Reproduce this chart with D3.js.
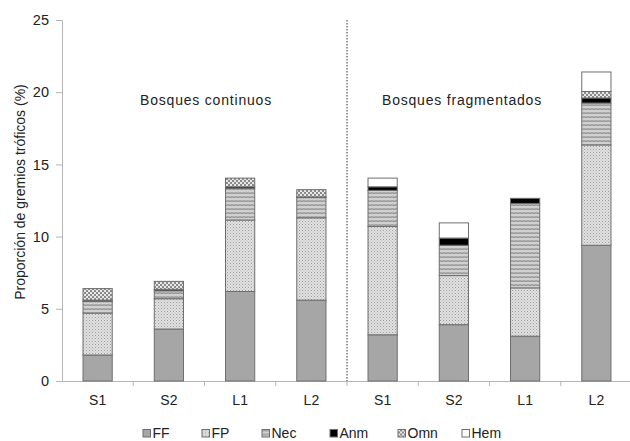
<!DOCTYPE html>
<html>
<head>
<meta charset="utf-8">
<script src="https://cdn.jsdelivr.net/npm/d3@7"></script>
<style>
  body { margin: 0; background: #fff; }
  text { font-family: "Liberation Sans", Arial, sans-serif; }
</style>
</head>
<body>
<svg id="chart" width="630" height="441"></svg>
<script>
// categories (two forest groups, four sites each)
var categories = ["S1", "S2", "L1", "L2", "S1", "S2", "L1", "L2"];
var groupLabels = ["Bosques continuos", "Bosques fragmentados"];
var guilds = ["FF", "FP", "Nec", "Anm", "Omn", "Hem"];

// values (%)
var ff  = [1.8, 3.6, 6.2, 5.6, 3.2, 3.9, 3.1, 9.4];
var fp  = [2.9, 2.1, 4.95, 5.7, 7.5, 3.4, 3.35, 6.95];
var nec = [0.8, 0.55, 2.2, 1.4, 2.5, 2.1, 5.85, 2.9];
var anm = [0.1, 0.1, 0.1, 0.05, 0.25, 0.5, 0.35, 0.35];
var omn = [0.8, 0.55, 0.6, 0.5, 0, 0, 0, 0.45];
var hem = [0, 0, 0, 0, 0.6, 1.05, 0, 1.35];
var yTicks = [0, 5, 10, 15, 20, 25];

var svg = d3.select("#chart");
var margin = {top: 20, right: -2, bottom: 60, left: 62};
var width = 630 - margin.left - margin.right;
var height = 441 - margin.top - margin.bottom;

var defs = svg.append("defs");

// FP: light dotted
var p = defs.append("pattern").attr("id", "pFP").attr("width", 3).attr("height", 3)
    .attr("patternUnits", "userSpaceOnUse");
p.append("rect").attr("width", 3).attr("height", 3).attr("fill", "#e2e2e2");
p.append("rect").attr("width", 1).attr("height", 1).attr("fill", "#9a9a9a");
p.append("rect").attr("x", 1.5).attr("y", 1.5).attr("width", 1).attr("height", 1).attr("fill", "#b0b0b0");

// Nec: horizontal wavy stripes
p = defs.append("pattern").attr("id", "pNec").attr("width", 4).attr("height", 4)
    .attr("patternUnits", "userSpaceOnUse");
p.append("rect").attr("width", 4).attr("height", 4).attr("fill", "#d0d0d0");
p.append("path").attr("d", "M0,1.5 L2,0.8 L4,1.5").attr("stroke", "#8a8a8a")
    .attr("stroke-width", 1.2).attr("fill", "none");

// Omn: dark checkered dots
p = defs.append("pattern").attr("id", "pOmn").attr("width", 4).attr("height", 4)
    .attr("patternUnits", "userSpaceOnUse");
p.append("rect").attr("width", 4).attr("height", 4).attr("fill", "#8a8a8a");
p.append("rect").attr("width", 2).attr("height", 2).attr("fill", "#e8e8e8");
p.append("rect").attr("x", 2).attr("y", 2).attr("width", 2).attr("height", 2).attr("fill", "#e8e8e8");

var fills = {
    FF: "#a6a6a6",
    FP: "url(#pFP)",
    Nec: "url(#pNec)",
    Anm: "#000000",
    Omn: "url(#pOmn)",
    Hem: "#ffffff"
};

var rows = categories.map(function(c, i) {
    return {idx: i, cat: c, FF: ff[i], FP: fp[i], Nec: nec[i], Anm: anm[i], Omn: omn[i], Hem: hem[i]};
});

var x = d3.scaleBand()
    .domain(d3.range(categories.length))
    .range([0, width])
    .paddingInner(0.59)
    .paddingOuter(0.295);

var y = d3.scaleLinear().domain([0, 25]).range([height, 0]);

var g = svg.append("g").attr("transform", "translate(" + margin.left + "," + margin.top + ")");

// axes
var xAxis = g.append("g")
    .attr("transform", "translate(0," + height + ")")
    .call(d3.axisBottom(x).tickSize(0).tickPadding(0).tickFormat(function(i) { return categories[i]; }));
xAxis.select(".domain").attr("stroke", "#b5b5b5");
xAxis.selectAll("text").attr("font-size", 14).attr("fill", "#222")
    .attr("dy", null).attr("y", 24);

// x ticks between categories
var step = x.step();
g.append("g").selectAll("line")
    .data(d3.range(1, categories.length + 1))
    .enter().append("line")
    .attr("x1", function(d) { return d * step; })
    .attr("x2", function(d) { return d * step; })
    .attr("y1", height).attr("y2", height + 5)
    .attr("stroke", "#b5b5b5");

var yAxis = g.append("g")
    .call(d3.axisLeft(y).tickValues(yTicks).tickSize(6).tickPadding(7));
yAxis.select(".domain").attr("stroke", "#b5b5b5");
yAxis.selectAll(".tick line").attr("stroke", "#b5b5b5");
yAxis.selectAll("text").attr("font-size", 14.5).attr("fill", "#222");

// stacked bars
var stack = d3.stack().keys(guilds)(rows);
g.append("g").selectAll("g.layer")
    .data(stack).enter()
    .append("g").attr("class", "layer")
    .attr("fill", function(d) { return fills[d.key]; })
    .selectAll("rect")
    .data(function(d) { return d.filter(function(s) { return s[1] - s[0] > 0; }); })
    .enter().append("rect")
    .attr("x", function(d) { return x(d.data.idx); })
    .attr("width", x.bandwidth())
    .attr("y", function(d) { return y(d[1]); })
    .attr("height", function(d) { return y(d[0]) - y(d[1]); })
    .attr("stroke", "#6e6e6e")
    .attr("stroke-width", 1);

// dotted separator
g.append("line")
    .attr("x1", step * 4).attr("x2", step * 4)
    .attr("y1", 0).attr("y2", height)
    .attr("stroke", "#333").attr("stroke-dasharray", "1.5,1.5");

// group labels
var groupX = [206, 462];
svg.selectAll("text.group")
    .data(groupLabels).enter()
    .append("text").attr("class", "group")
    .attr("x", function(d, i) { return groupX[i]; })
    .attr("y", 105)
    .attr("text-anchor", "middle")
    .attr("font-size", 14)
    .attr("letter-spacing", 0.8)
    .attr("fill", "#222")
    .text(function(d) { return d; });

// y label
svg.append("text")
    .attr("transform", "translate(25,192) rotate(-90)")
    .attr("text-anchor", "middle")
    .attr("font-size", 14)
    .attr("fill", "#222")
    .text("Proporción de gremios tróficos (%)");

// legend
var legendX = [143, 202, 262, 330, 398, 462];
var legend = svg.append("g").selectAll("g")
    .data(guilds).enter()
    .append("g")
    .attr("transform", function(d, i) { return "translate(" + legendX[i] + ",429.5)"; });
legend.append("rect")
    .attr("width", 7.5).attr("height", 7.5)
    .attr("fill", function(d) { return fills[d]; })
    .attr("stroke", "#6e6e6e");
legend.append("text")
    .attr("x", 9.5).attr("y", 8.5)
    .attr("font-size", 14)
    .attr("fill", "#222")
    .text(function(d) { return d; });
</script>
</body>
</html>
